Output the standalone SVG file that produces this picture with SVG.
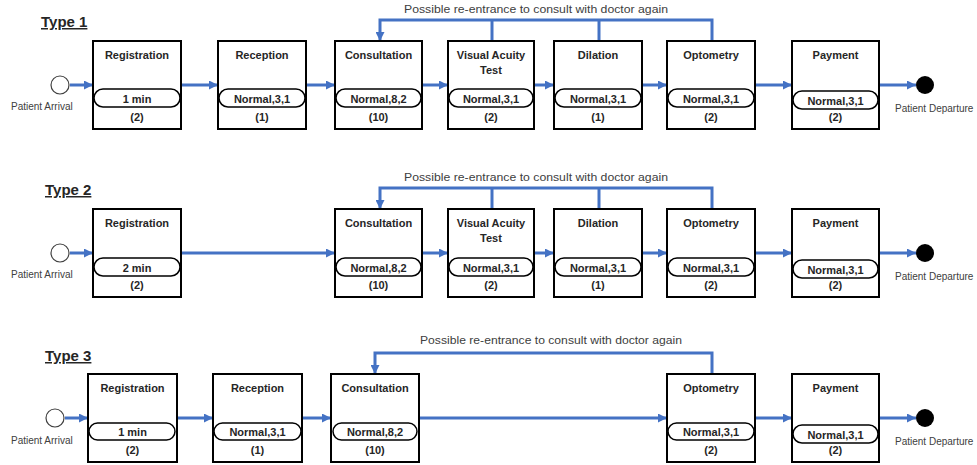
<svg xmlns="http://www.w3.org/2000/svg" width="977" height="465" viewBox="0 0 977 465">
<style>
.bg{fill:#fff}
.box{fill:#fff;stroke:#000;stroke-width:2}
.pill{fill:#fff;stroke:#000;stroke-width:1.5}
.t{font-family:"Liberation Sans",Arial,sans-serif;font-size:11px;font-weight:bold;fill:#262626;text-anchor:middle}
.lbl{font-family:"Liberation Sans",Arial,sans-serif;font-size:10px;fill:#404040}
.note{font-family:"Liberation Sans",Arial,sans-serif;font-size:11px;fill:#404040;text-anchor:middle}
.type{font-family:"Liberation Sans",Arial,sans-serif;font-size:15px;font-weight:bold;fill:#262626;text-decoration:underline}
.c{stroke:#4472C4;stroke-width:3;fill:none}
.ca{stroke:#4472C4;stroke-width:3;fill:none;marker-end:url(#ah)}
.start{fill:#fff;stroke:#404040;stroke-width:1.2}
.end{fill:#000}
</style>
<defs>
<marker id="ah" viewBox="0 0 10 10" refX="10" refY="5" markerWidth="9" markerHeight="9" markerUnits="userSpaceOnUse" orient="auto">
<path d="M0,0 L10,5 L0,10 z" fill="#4472C4"/>
</marker>
</defs>
<rect class="bg" x="0" y="0" width="977" height="465"/>

<!-- Row titles -->
<text class="type" x="41" y="27">Type 1</text>
<text class="type" x="45" y="195">Type 2</text>
<text class="type" x="45" y="361">Type 3</text>

<!-- connectors -->
<g id="connectors">
  <!-- Row 1 -->
  <line class="ca" x1="70" y1="85" x2="93" y2="85"/>
  <line class="ca" x1="181" y1="85" x2="218" y2="85"/>
  <line class="ca" x1="306" y1="85" x2="335" y2="85"/>
  <line class="ca" x1="422" y1="85" x2="448" y2="85"/>
  <line class="ca" x1="534" y1="85" x2="554" y2="85"/>
  <line class="ca" x1="642" y1="85" x2="667" y2="85"/>
  <line class="ca" x1="755" y1="85" x2="792" y2="85"/>
  <line class="ca" x1="879" y1="85" x2="916" y2="85"/>
  <polyline class="ca" points="712,41 712,20 380,20 380,41"/>
  <line class="c" x1="492" y1="20" x2="492" y2="41"/>
  <line class="c" x1="599" y1="20" x2="599" y2="41"/>
  <!-- Row 2 -->
  <line class="ca" x1="70" y1="253" x2="93" y2="253"/>
  <line class="ca" x1="181" y1="253" x2="335" y2="253"/>
  <line class="ca" x1="422" y1="253" x2="448" y2="253"/>
  <line class="ca" x1="534" y1="253" x2="554" y2="253"/>
  <line class="ca" x1="642" y1="253" x2="667" y2="253"/>
  <line class="ca" x1="755" y1="253" x2="792" y2="253"/>
  <line class="ca" x1="879" y1="253" x2="916" y2="253"/>
  <polyline class="ca" points="712,209 712,188 380,188 380,209"/>
  <line class="c" x1="492" y1="188" x2="492" y2="209"/>
  <line class="c" x1="599" y1="188" x2="599" y2="209"/>
  <!-- Row 3 -->
  <line class="ca" x1="65" y1="418" x2="88" y2="418"/>
  <line class="ca" x1="177" y1="418" x2="213" y2="418"/>
  <line class="ca" x1="302" y1="418" x2="331" y2="418"/>
  <line class="ca" x1="419" y1="418" x2="667" y2="418"/>
  <line class="ca" x1="755" y1="418" x2="792" y2="418"/>
  <line class="ca" x1="879" y1="418" x2="916" y2="418"/>
  <polyline class="ca" points="712,374 712,353 375,353 375,374"/>
  <text class="note" x="536" y="13" textLength="264" lengthAdjust="spacingAndGlyphs">Possible re-entrance to consult with doctor again</text>
  <text class="note" x="536" y="181" textLength="264" lengthAdjust="spacingAndGlyphs">Possible re-entrance to consult with doctor again</text>
  <text class="note" x="551" y="344" textLength="262" lengthAdjust="spacingAndGlyphs">Possible re-entrance to consult with doctor again</text>
</g>

<!-- Row 1 nodes -->
<g id="r1-arrival"><circle class="start" cx="60" cy="85" r="9"/><text class="lbl" x="11" y="110">Patient Arrival</text></g>
<g id="r1-registration"><rect class="box" x="93" y="41" width="88" height="88"/><text class="t" x="137" y="59">Registration</text><rect class="pill" x="94" y="89" width="86" height="18" rx="9"/><text class="t" x="137" y="103">1 min</text><text class="t" x="137" y="121">(2)</text></g>
<g id="r1-reception"><rect class="box" x="218" y="41" width="88" height="88"/><text class="t" x="262" y="59">Reception</text><rect class="pill" x="219" y="89" width="86" height="18" rx="9"/><text class="t" x="262" y="103">Normal,3,1</text><text class="t" x="262" y="121">(1)</text></g>
<g id="r1-consultation"><rect class="box" x="335" y="41" width="87" height="88"/><text class="t" x="378.5" y="59">Consultation</text><rect class="pill" x="336" y="89" width="85" height="18" rx="9"/><text class="t" x="378.5" y="103">Normal,8,2</text><text class="t" x="378.5" y="121">(10)</text></g>
<g id="r1-vat"><rect class="box" x="448" y="41" width="86" height="88"/><text class="t" x="491" y="59">Visual Acuity</text><text class="t" x="491" y="74">Test</text><rect class="pill" x="449" y="89" width="84" height="18" rx="9"/><text class="t" x="491" y="103">Normal,3,1</text><text class="t" x="491" y="121">(2)</text></g>
<g id="r1-dilation"><rect class="box" x="554" y="41" width="88" height="88"/><text class="t" x="598" y="59">Dilation</text><rect class="pill" x="555" y="89" width="86" height="18" rx="9"/><text class="t" x="598" y="103">Normal,3,1</text><text class="t" x="598" y="121">(1)</text></g>
<g id="r1-optometry"><rect class="box" x="667" y="41" width="88" height="88"/><text class="t" x="711" y="59">Optometry</text><rect class="pill" x="668" y="89" width="86" height="18" rx="9"/><text class="t" x="711" y="103">Normal,3,1</text><text class="t" x="711" y="121">(2)</text></g>
<g id="r1-payment"><rect class="box" x="792" y="41" width="87" height="88"/><text class="t" x="835.5" y="59">Payment</text><rect class="pill" x="793" y="91" width="85" height="18" rx="9"/><text class="t" x="835.5" y="105">Normal,3,1</text><text class="t" x="835.5" y="121">(2)</text></g>
<g id="r1-departure"><circle class="end" cx="925" cy="85" r="9"/><text class="lbl" x="895" y="112">Patient Departure</text></g>

<!-- Row 2 nodes -->
<g id="r2-arrival"><circle class="start" cx="60" cy="253" r="9"/><text class="lbl" x="11" y="278">Patient Arrival</text></g>
<g id="r2-registration"><rect class="box" x="93" y="209" width="88" height="88"/><text class="t" x="137" y="227">Registration</text><rect class="pill" x="94" y="258" width="86" height="18" rx="9"/><text class="t" x="137" y="272">2 min</text><text class="t" x="137" y="289">(2)</text></g>
<g id="r2-consultation"><rect class="box" x="335" y="209" width="87" height="88"/><text class="t" x="378.5" y="227">Consultation</text><rect class="pill" x="336" y="258" width="85" height="18" rx="9"/><text class="t" x="378.5" y="272">Normal,8,2</text><text class="t" x="378.5" y="289">(10)</text></g>
<g id="r2-vat"><rect class="box" x="448" y="209" width="86" height="88"/><text class="t" x="491" y="227">Visual Acuity</text><text class="t" x="491" y="242">Test</text><rect class="pill" x="449" y="258" width="84" height="18" rx="9"/><text class="t" x="491" y="272">Normal,3,1</text><text class="t" x="491" y="289">(2)</text></g>
<g id="r2-dilation"><rect class="box" x="554" y="209" width="88" height="88"/><text class="t" x="598" y="227">Dilation</text><rect class="pill" x="555" y="258" width="86" height="18" rx="9"/><text class="t" x="598" y="272">Normal,3,1</text><text class="t" x="598" y="289">(1)</text></g>
<g id="r2-optometry"><rect class="box" x="667" y="209" width="88" height="88"/><text class="t" x="711" y="227">Optometry</text><rect class="pill" x="668" y="258" width="86" height="18" rx="9"/><text class="t" x="711" y="272">Normal,3,1</text><text class="t" x="711" y="289">(2)</text></g>
<g id="r2-payment"><rect class="box" x="792" y="209" width="87" height="88"/><text class="t" x="835.5" y="227">Payment</text><rect class="pill" x="793" y="260" width="85" height="18" rx="9"/><text class="t" x="835.5" y="274">Normal,3,1</text><text class="t" x="835.5" y="289">(2)</text></g>
<g id="r2-departure"><circle class="end" cx="925" cy="253" r="9"/><text class="lbl" x="895" y="280">Patient Departure</text></g>

<!-- Row 3 nodes -->
<g id="r3-arrival"><circle class="start" cx="55" cy="418" r="9"/><text class="lbl" x="11" y="444">Patient Arrival</text></g>
<g id="r3-registration"><rect class="box" x="88" y="374" width="89" height="88"/><text class="t" x="132.5" y="392">Registration</text><rect class="pill" x="89" y="423" width="86" height="17" rx="8.5"/><text class="t" x="132.5" y="436">1 min</text><text class="t" x="132.5" y="454">(2)</text></g>
<g id="r3-reception"><rect class="box" x="213" y="374" width="89" height="88"/><text class="t" x="257.5" y="392">Reception</text><rect class="pill" x="214" y="423" width="87" height="17" rx="8.5"/><text class="t" x="257.5" y="436">Normal,3,1</text><text class="t" x="257.5" y="454">(1)</text></g>
<g id="r3-consultation"><rect class="box" x="331" y="374" width="88" height="88"/><text class="t" x="375" y="392">Consultation</text><rect class="pill" x="333" y="423" width="84" height="17" rx="8.5"/><text class="t" x="375" y="436">Normal,8,2</text><text class="t" x="375" y="454">(10)</text></g>
<g id="r3-optometry"><rect class="box" x="667" y="374" width="88" height="88"/><text class="t" x="711" y="392">Optometry</text><rect class="pill" x="668" y="423" width="86" height="17" rx="8.5"/><text class="t" x="711" y="436">Normal,3,1</text><text class="t" x="711" y="454">(2)</text></g>
<g id="r3-payment"><rect class="box" x="792" y="374" width="87" height="88"/><text class="t" x="835.5" y="392">Payment</text><rect class="pill" x="793" y="425" width="85" height="18" rx="9"/><text class="t" x="835.5" y="439">Normal,3,1</text><text class="t" x="835.5" y="454">(2)</text></g>
<g id="r3-departure"><circle class="end" cx="925" cy="418" r="9"/><text class="lbl" x="895" y="445">Patient Departure</text></g>
</svg>
